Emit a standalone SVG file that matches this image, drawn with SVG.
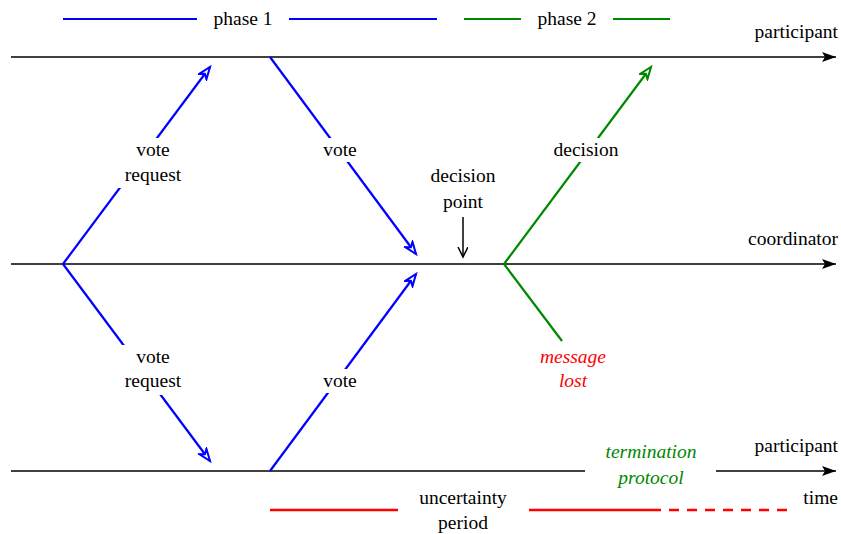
<svg xmlns="http://www.w3.org/2000/svg" width="841" height="534" viewBox="0 0 841 534">
<style>
text{font-family:'Liberation Serif','DejaVu Serif',serif;font-size:19.5px;fill:#000}
.c{text-anchor:middle}
.r{text-anchor:end}
.axis{stroke:#000;stroke-width:1.5;fill:none}
.blue{stroke:#00f;stroke-width:2.2;fill:none}
.green{stroke:#080;stroke-width:2.2;fill:none}
.red{stroke:#f00;stroke-width:2.5;fill:none}
.bg{fill:#fff;stroke:none}
</style>
<defs>
<marker id="ax" markerWidth="16" markerHeight="12" refX="14" refY="5" orient="auto" markerUnits="userSpaceOnUse">
<path d="M0,0 L14,5 L0,10 L3,5 Z" fill="#000"/>
</marker>
<marker id="ab" markerWidth="16" markerHeight="14" refX="13" refY="6" orient="auto" markerUnits="userSpaceOnUse">
<path d="M1,1.5 L13,6 L1,10.5 L4.5,6 Z" fill="#fff" stroke="#00f" stroke-width="2"/>
</marker>
<marker id="ag" markerWidth="16" markerHeight="14" refX="13" refY="6" orient="auto" markerUnits="userSpaceOnUse">
<path d="M1,1.5 L13,6 L1,10.5 L4.5,6 Z" fill="#fff" stroke="#080" stroke-width="2"/>
</marker>
<marker id="ak" markerWidth="12" markerHeight="12" refX="10" refY="5" orient="auto" markerUnits="userSpaceOnUse">
<path d="M0,0 L10,5 L0,10" fill="none" stroke="#000" stroke-width="1.5"/>
</marker>
</defs>
<g id="legend">
<line class="blue" x1="63" y1="19" x2="197" y2="19"/>
<text class="c" x="243" y="25" font-family="Liberation Serif, serif">phase 1</text>
<line class="blue" x1="289" y1="19" x2="437" y2="19"/>
<line class="green" x1="464" y1="19" x2="521" y2="19"/>
<text class="c" x="567" y="25" font-family="Liberation Serif, serif">phase 2</text>
<line class="green" x1="613" y1="19" x2="670" y2="19"/>
</g>
<g id="axes">
<g id="participant-top">
<line class="axis" x1="11" y1="57" x2="836" y2="57" marker-end="url(#ax)"/>
<text class="r" x="838" y="38">participant</text>
</g>
<g id="coordinator">
<line class="axis" x1="11" y1="264" x2="836" y2="264" marker-end="url(#ax)"/>
<text class="r" x="838" y="245">coordinator</text>
</g>
<g id="participant-bottom">
<line class="axis" x1="11" y1="471" x2="585" y2="471"/>
<line class="axis" x1="716" y1="471" x2="836" y2="471" marker-end="url(#ax)"/>
<text class="r" x="838" y="452">participant</text>
</g>
</g>
<g id="connectors">
<line class="blue" x1="63" y1="264" x2="210" y2="67" marker-end="url(#ab)"/>
<line class="blue" x1="63" y1="264" x2="210" y2="461" marker-end="url(#ab)"/>
<line class="blue" x1="270" y1="57" x2="416" y2="254" marker-end="url(#ab)"/>
<line class="blue" x1="270" y1="471" x2="416" y2="274" marker-end="url(#ab)"/>
<line class="green" x1="504" y1="264" x2="651" y2="67" marker-end="url(#ag)"/>
<line class="green" x1="504" y1="264" x2="562" y2="341"/>
<line class="axis" x1="463" y1="217" x2="463" y2="257" marker-end="url(#ak)"/>
</g>
<g id="labels">
<rect class="bg" x="113" y="138" width="80" height="50"/>
<text class="c" x="153" y="156">vote</text>
<text class="c" x="153" y="181">request</text>
<rect class="bg" x="318" y="138" width="44" height="24"/>
<text class="c" x="340" y="156">vote</text>
<text class="c" x="463" y="182">decision</text>
<text class="c" x="463" y="208">point</text>
<rect class="bg" x="548" y="138" width="76" height="24"/>
<text class="c" x="586" y="156">decision</text>
<rect class="bg" x="113" y="345" width="80" height="50"/>
<text class="c" x="153" y="363">vote</text>
<text class="c" x="153" y="387">request</text>
<rect class="bg" x="318" y="369" width="44" height="24"/>
<text class="c" x="340" y="387">vote</text>
<text class="c" x="573" y="363" style="fill:#f00;font-style:italic">message</text>
<text class="c" x="573" y="387" style="fill:#f00;font-style:italic">lost</text>
<text class="c" x="651" y="458" style="fill:#080;font-style:italic">termination</text>
<text class="c" x="651" y="484" style="fill:#080;font-style:italic">protocol</text>
</g>
<g id="uncertainty">
<line class="red" x1="270" y1="510" x2="398" y2="510"/>
<text class="c" x="463" y="504">uncertainty</text>
<text class="c" x="463" y="529">period</text>
<line class="red" x1="529" y1="510" x2="651" y2="510"/>
<line class="red" x1="651" y1="510" x2="787" y2="510" stroke-dasharray="10,8"/>
<text class="r" x="838" y="504">time</text>
</g>
</svg>
